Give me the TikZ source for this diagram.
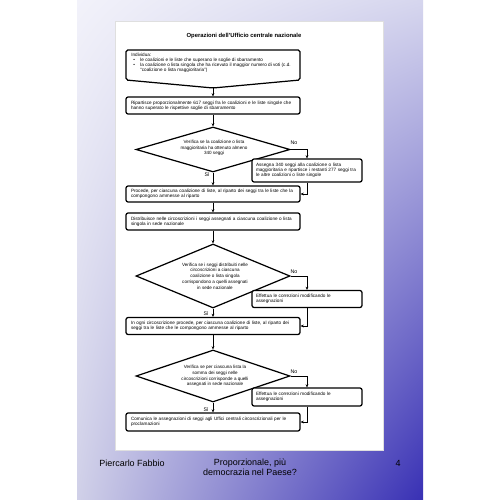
\documentclass[tikz,border=0pt]{standalone}
\usepackage{fontspec}
\setmainfont{Liberation Sans}
\usetikzlibrary{shapes.geometric,arrows.meta,shadings}
\newlength\pxu \setlength\pxu{0.02cm}
\definecolor{gUL}{HTML}{F2F2FA}
\definecolor{gUR}{HTML}{D6D6EE}
\definecolor{gLL}{HTML}{D0D0E8}
\definecolor{gLR}{HTML}{3830B4}
\begin{document}
\begin{tikzpicture}[x=0.02cm,y=-0.02cm,
  boxfont/.style={font=\fontsize{2.65}{2.95}\selectfont},
  box/.style={draw,line width=0.7pt,rounded corners=1.2pt,fill=white,minimum width=174\pxu,text width=164\pxu,inner xsep=5\pxu,inner ysep=0pt,align=left,boxfont},
  sidebox/.style={draw,line width=0.7pt,rounded corners=1.2pt,fill=white,minimum width=110\pxu,text width=102\pxu,inner xsep=4\pxu,inner ysep=0pt,align=left,boxfont},
  dia/.style={draw,diamond,line width=0.7pt,inner sep=0pt,fill=white},
  dtext/.style={align=center,inner sep=0pt,font=\fontsize{2.6}{3.3}\selectfont},
  conn/.style={line width=0.55pt},
  arr/.style={conn,-{Stealth[length=1.8pt,width=1.6pt]}},
  lbl/.style={font=\fontsize{3}{3.2}\selectfont,inner sep=0pt},
  foot/.style={font=\fontsize{5.1}{5.6}\selectfont,inner sep=0pt}
]
\useasboundingbox (0,0) rectangle (500,500);
\fill[white] (0,0) rectangle (500,500);
\shade[upper left=gUL,upper right=gUR,lower left=gLL,lower right=gLR] (77,0) rectangle (423,500);
\fill[white] (115,21) rectangle (383,450);
\draw[gray!25,line width=0.3pt] (115,21) rectangle (383,450);

% title
\node[font=\bfseries\fontsize{3.35}{4}\selectfont] (title) at (244,36) {Operazioni dell'Ufficio centrale nazionale};

% box 1 (pentagon)
\coordinate (b1nw) at (126,50);
\coordinate (b1ne) at (300,50);
\coordinate (b1se) at (300,80);
\coordinate (b1tip) at (213,88);
\coordinate (b1sw) at (126,80);
\draw[line width=0.7pt,fill=white,rounded corners=1pt] (b1nw) -- (b1ne) -- (b1se) -- (b1tip) -- (b1sw) -- cycle;
\node[anchor=north west,align=left,inner sep=0pt,boxfont] (b1t) at (131,52.5)
 {Individua:\\
  \hspace*{2\pxu}\makebox[7\pxu][l]{\textbullet}le coalizioni e le liste che superano le soglie di sbarramento\\
  \hspace*{2\pxu}\makebox[7\pxu][l]{\textbullet}la coalizione o lista singola che ha ricevuto il maggior numero di voti (c.d.\\
  \hspace*{9\pxu}“coalizione o lista maggioritaria”)};

\node[box,minimum height=17\pxu] (b2) at (213,105.5) {\makebox[164\pxu][s]{Ripartisce proporzionalmente 617 seggi fra le coalizioni e le liste singole che}\\hanno superato le rispettive soglie di sbarramento};

\node[dia,minimum width=154\pxu,minimum height=45\pxu] (d1) at (213,149.5) {};
\node[dtext] (d1t) at (214,148) {Verifica se la coalizione o lista\\maggioritaria ha ottenuto almeno\\340 seggi};

\node[sidebox,minimum height=23\pxu] (s1) at (307,170.5) {\makebox[102\pxu][s]{Assegna 340 seggi alla coalizione o lista}\\\makebox[102\pxu][s]{maggioritaria e ripartisce i restanti 277 seggi tra}\\le altre coalizioni o liste singole};

\node[box,minimum height=16\pxu] (b3) at (213,194) {\makebox[164\pxu][s]{Procede, per ciascuna coalizione di liste, al riparto dei seggi tra le liste che la}\\compongono ammesse al riparto};

\node[box,minimum height=17\pxu] (b4) at (213,221.5) {Distribuisce nelle circoscrizioni i seggi assegnati a ciascuna coalizione o lista\\singola in sede nazionale};

\node[dia,minimum width=154\pxu,minimum height=64\pxu] (d2) at (213,276) {};
\node[dtext] (d2t) at (215,276) {Verifica se i seggi distribuiti nelle\\circoscrizioni a ciascuna\\coalizione o lista singola\\corrispondono a quelli assegnati\\in sede nazionale};

\node[sidebox,minimum height=17\pxu] (s2) at (307,299) {\makebox[102\pxu][s]{Effettua le correzioni modificando le}\\assegnazioni};

\node[box,minimum height=17\pxu] (b5) at (213,326) {\makebox[164\pxu][s]{In ogni circoscrizione procede, per ciascuna coalizione di liste, al riparto dei}\\seggi tra le liste che le compongono ammesse al riparto};

\node[dia,minimum width=154\pxu,minimum height=52\pxu] (d3) at (213,376) {};
\node[dtext] (d3t) at (215,376) {Verifica se per ciascuna lista la\\somma dei seggi nelle\\circoscrizioni corrisponde a quelli\\assegnati in sede nazionale};

\node[sidebox,minimum height=18\pxu] (s3) at (307,397) {\makebox[102\pxu][s]{Effettua le correzioni modificando le}\\assegnazioni};

\node[box,minimum height=18\pxu] (b6) at (213,422) {\makebox[164\pxu][s]{Comunica le assegnazioni di seggi agli Uffici centrali circoscrizionali per le}\\proclamazioni};

% labels
\node[lbl] (no1) at (294,143) {No};
\node[lbl] (si1) at (207,175) {Sì};
\node[lbl] (no2) at (294,272) {No};
\node[lbl] (si2) at (206,314) {Sì};
\node[lbl] (no3) at (294,372) {No};
\node[lbl] (si3) at (206,410) {Sì};

% connectors
\draw[arr] (b1tip) -- (b2.north);
\draw[arr] (b2.south) -- (d1.north);
\draw[arr] (d1.east) -| (s1.north);
\draw[arr] (d1.south) -- (b3.north);
\draw[arr] (s1.south) |- (b3.east);
\draw[arr] (b3.south) -- (b4.north);
\draw[arr] (b4.south) -- (d2.north);
\draw[arr] (d2.east) -| (s2.north);
\draw[arr] (d2.south) -- (b5.north);
\draw[arr] (s2.south) |- (b5.east);
\draw[arr] (b5.south) -- (d3.north);
\draw[arr] (d3.east) -| (s3.north);
\draw[arr] (d3.south) -- (b6.north);
\draw[arr] (s3.south) |- (b6.east);

% footer
\node[foot] (author) at (132,463) {Piercarlo Fabbio};
\node[foot,align=center] (ftitle) at (250,467.5) {Proporzionale, più\\democrazia nel Paese?};
\node[foot] (page) at (398,463) {4};
\end{tikzpicture}
\end{document}
